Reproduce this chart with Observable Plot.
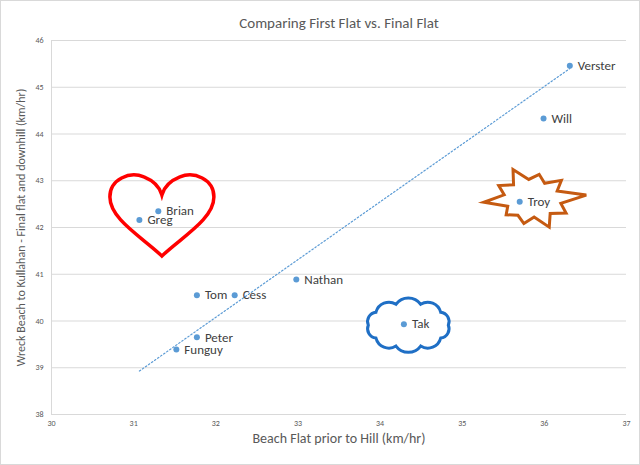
<!DOCTYPE html>
<html><head><meta charset="utf-8">
<script src="https://cdn.jsdelivr.net/npm/d3@7"></script>
<script src="https://cdn.jsdelivr.net/npm/@observablehq/plot@0.6"></script>
<style>body{margin:0;background:#fff}svg{display:block;font-family:Calibri,Carlito,"Liberation Sans",sans-serif}
#c{width:638px;height:463px;border:1px solid #d9d9d9;}</style>
</head><body><div id="c"></div>
<script>
const names = ["Verster","Will","Troy","Brian","Greg","Nathan","Tom","Cess","Tak","Peter","Funguy"];
const firstFlat = [36.31,35.99,35.70,31.30,31.07,32.98,31.77,32.23,34.29,31.77,31.52];
const finalFlat = [45.46,44.33,42.55,42.35,42.16,40.89,40.55,40.55,39.93,39.65,39.39];
const trendX = [31.07,36.31];
const trendY = [38.93,45.40];
const xTicks = [30,31,32,33,34,35,36,37];
const yTicks = [38,39,40,41,42,43,44,45,46];
const decorations = [
  {kind:"heart", x:31.35, y:42.3},
  {kind:"cloud", x:34.35, y:39.9},
  {kind:"boom", x:35.85, y:42.6}
];
const data = names.map((n,i)=>({name:n,x:firstFlat[i],y:finalFlat[i]}));
const trend = trendX.map((x,i)=>({x,y:trendY[i]}));

function decoMark(index, scales){
  const g = d3.create("svg:g");
  for (const d of decorations){
    const cx = scales.x(d.x), cy = scales.y(d.y);
    const t = g.append("g").attr("transform",`translate(${cx},${cy})`);
    if (d.kind==="heart"){
      t.append("path").attr("d","M0,43 C-20,24 -52,6 -52,-16 C-52,-34 -32,-42 -18,-36 C-8,-32 -2,-25 0,-18 C2,-25 8,-32 18,-36 C32,-42 52,-34 52,-16 C52,6 20,24 0,43 Z")
        .attr("fill","none").attr("stroke","#ff0000").attr("stroke-width",3.5);
    } else if (d.kind==="cloud"){
      const n=10, rx=40, ry=22; const pts=[];
      for(let i=0;i<n;i++){const a=2*Math.PI*i/n; pts.push([rx*Math.cos(a), ry*Math.sin(a)]);}
      let p=`M${pts[0][0]},${pts[0][1]}`;
      for(let i=1;i<=n;i++){const q=pts[i%n], pr=pts[i-1]; const ch=Math.hypot(q[0]-pr[0],q[1]-pr[1]); p+=` A${ch*0.62},${ch*0.62} 0 0 1 ${q[0]},${q[1]}`;}
      t.append("path").attr("d",p+"Z").attr("fill","#fff").attr("stroke","#1f6fc5").attr("stroke-width",3);
    } else {
      const radii=[55,30,40,28,44,26,36,27,34,26,48,28,38,27,46,28,36,26,40,28];
      const n=radii.length; let pts=[];
      for(let i=0;i<n;i++){const a=2*Math.PI*i/n-0.1; pts.push([radii[i]*Math.cos(a), radii[i]*Math.sin(a)*0.7]);}
      t.append("path").attr("d","M"+pts.map(p=>p.join(",")).join("L")+"Z").attr("fill","#fff").attr("stroke","#c55a11").attr("stroke-width",3).attr("stroke-linejoin","miter");
    }
  }
  return g.node();
}

const chart = Plot.plot({
  width:638, height:463,
  marginLeft:50, marginRight:13, marginTop:39, marginBottom:50,
  x:{domain:[30,37], ticks:xTicks, tickSize:0, label:null},
  y:{domain:[38,46], ticks:yTicks, tickSize:0, label:null},
  style:{fontSize:"8px", color:"#595959"},
  marks:[
    Plot.gridY(yTicks,{stroke:"#d9d9d9", strokeOpacity:1}),
    Plot.ruleX([30],{stroke:"#d9d9d9"}),
    Plot.axisX({ticks:xTicks, tickFormat:"d", tickSize:0, tickPadding:6, fontSize:8, fill:"#595959"}),
    Plot.axisY({ticks:yTicks, tickFormat:"d", tickSize:0, tickPadding:8, fontSize:8, fill:"#595959"}),
    decoMark,
    Plot.line(trend,{x:"x",y:"y",stroke:"#5b9bd5",strokeWidth:1.2,strokeDasharray:"1.5,2.2"}),
    Plot.dot(data,{x:"x",y:"y",r:3,fill:"#5b9bd5"}),
    Plot.text(data,{x:"x",y:"y",text:"name",dx:8,textAnchor:"start",fontSize:13,fill:"#404040"}),
    Plot.text(["Comparing First Flat vs. Final Flat"],{frameAnchor:"top",dy:-23,fontSize:15,fill:"#595959"}),
    Plot.text(["Beach Flat prior to Hill (km/hr)"],{frameAnchor:"bottom",dy:28,fontSize:14,fill:"#595959"}),
    Plot.text(["Wreck Beach to Kullahan - Final flat and downhill (km/hr)"],{frameAnchor:"left",textAnchor:"middle",dx:-30,rotate:-90,fontSize:12,fill:"#595959"})
  ]
});
document.getElementById("c").append(chart);
</script></body></html>
